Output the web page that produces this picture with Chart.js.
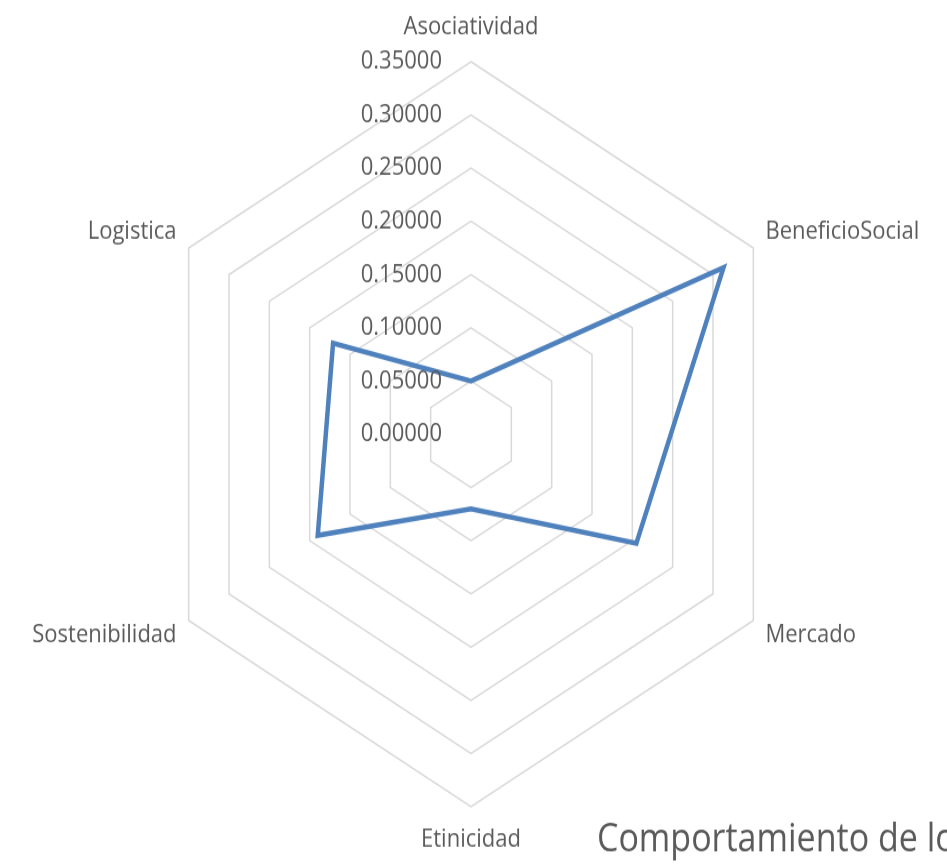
<!DOCTYPE html>
<html>
<head>
<meta charset="utf-8">
<script src="https://cdn.jsdelivr.net/npm/chart.js@4/dist/chart.umd.min.js"></script>
<style>
    html, body { margin: 0; padding: 0; background: #fff; width: 947px; height: 865px; overflow: hidden; }
    #wrap { width: 947px; height: 757px; transform-origin: 0 0; transform: scaleY(1.1427); }
</style>
</head>
<body>
<div id="wrap"><canvas id="grafica" width="947" height="757"></canvas></div>
<script>
const categorias = ['Asociatividad', 'BeneficioSocial', 'Mercado', 'Etinicidad', 'Sostenibilidad', 'Logistica'];
const valores = [0.050, 0.313, 0.205, 0.070, 0.190, 0.171];
const ticksValores = [0, 0.05, 0.10, 0.15, 0.20, 0.25, 0.30, 0.35];
const ticksEtiquetas = ['0.00000', '0.05000', '0.10000', '0.15000', '0.20000', '0.25000', '0.30000', '0.35000'];
const titulo = 'Comportamiento de los';

const fuente = '"Open Sans", "DejaVu Sans", sans-serif';
const gris = '#5a5a5a';

// etiquetas de ejes, ticks y titulo dibujados a mano (estilo Excel)
const textosPlugin = {
    id: 'textos',
    afterDraw(chart) {
        const ctx = chart.ctx;
        const r = chart.scales.r;
        ctx.save();
        ctx.fillStyle = gris;
        ctx.font = '22px ' + fuente;

        // ticks a la izquierda del eje vertical
        ctx.textAlign = 'right';
        ctx.textBaseline = 'middle';
        ticksValores.forEach((v, i) => {
            const y = r.yCenter - r.getDistanceFromCenterForValue(v);
            ctx.fillText(ticksEtiquetas[i], r.xCenter - 29, y);
        });

        // nombres de las categorias
        categorias.forEach((nombre, i) => {
            const p = r.getPointPosition(i, r.drawingArea + 14);
            const cos = Math.cos(p.angle);
            const sin = Math.sin(p.angle);
            let y = p.y;
            if (Math.abs(cos) < 0.01) {
                ctx.textAlign = 'center';
                y += sin < 0 ? -16 : 15;
            } else {
                ctx.textAlign = cos > 0 ? 'left' : 'right';
                y += sin < 0 ? -7 : 6;
            }
            ctx.fillText(nombre, p.x, y);
        });

        // titulo (cortado por el borde derecho)
        ctx.font = '34px ' + fuente;
        ctx.textAlign = 'left';
        ctx.textBaseline = 'alphabetic';
        ctx.fillText(titulo, 597, 745);
        ctx.restore();
    }
};

const ctx = document.getElementById('grafica').getContext('2d');
new Chart(ctx, {
    type: 'radar',
    data: {
        labels: categorias,
        datasets: [{
            label: 'Serie1',
            data: valores,
            borderColor: '#4f81bd',
            backgroundColor: 'transparent',
            borderWidth: 4.5,
            fill: false,
            pointRadius: 0,
            borderJoinStyle: 'miter'
        }]
    },
    plugins: [textosPlugin],
    options: {
        responsive: false,
        animation: false,
        layout: {
            padding: { left: 145, right: 150, top: 54, bottom: 51 }
        },
        plugins: {
            legend: { display: false },
            tooltip: { enabled: false }
        },
        scales: {
            r: {
                min: 0,
                max: 0.35,
                ticks: { stepSize: 0.05, display: false },
                pointLabels: { display: false },
                angleLines: { display: false },
                grid: { color: '#d9d9d9', lineWidth: 1.5 }
            }
        }
    }
});
</script>
</body>
</html>
